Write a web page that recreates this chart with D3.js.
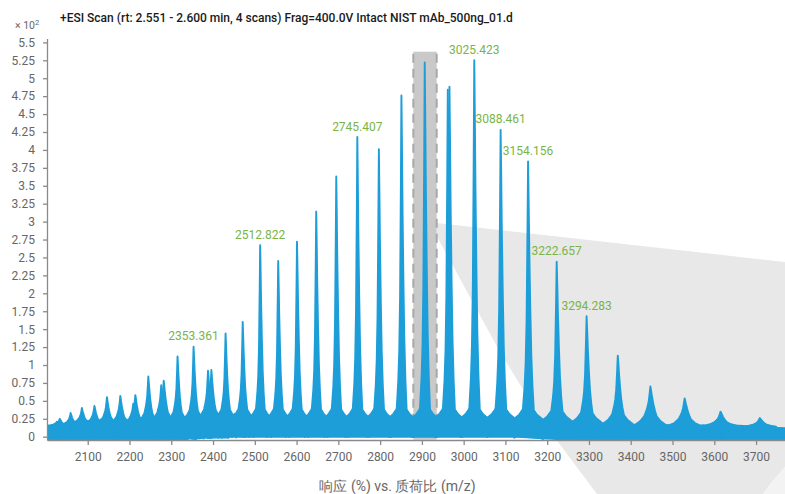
<!DOCTYPE html>
<html><head><meta charset="utf-8">
<script src="https://cdn.jsdelivr.net/npm/d3@7"></script>
<style>
body{margin:0;background:#fff;}
svg text{font-family:Roboto,"Noto Sans",sans-serif;}
</style></head>
<body><svg id="chart" width="785" height="494"></svg>
<script>
// ---------------- data ----------------
const chartTitle = "+ESI Scan (rt: 2.551 - 2.600 min, 4 scans) Frag=400.0V Intact NIST mAb_500ng_01.d";
const xTitle = "响应 (%) vs. 质荷比 (m/z)";
const xDomain = [2002.5, 3769.3];
const yDomain = [-0.046, 5.554];
const xTicks = [2100,2200,2300,2400,2500,2600,2700,2800,2900,3000,3100,3200,3300,3400,3500,3600,3700];
const yTicks = [0,0.25,0.5,0.75,1,1.25,1.5,1.75,2,2.25,2.5,2.75,3,3.25,3.5,3.75,4,4.25,4.5,4.75,5,5.25,5.5];

// peak apexes (m/z, response x10^2)
const peakMz  = [2005,2026,2033,2059,2077,2086,2102,2116,2131,2146,2163,2178,2195,2209,2214,2230,2245,2262,2276,2282,2298,2315,2335,2353.4,2372,2388,2396,2412,2430,2452,2471,2512.8,2556,2601,2647,2695,2745.4,2797,2851,2906.8,2962,2966,3025.4,3088.5,3154.2,3222.7,3294.3,3369,3447,3517,3529,3572,3590,3615,3656,3709];
const peakTop = [0.14,0.21,0.25,0.33,0.24,0.40,0.22,0.43,0.24,0.55,0.22,0.57,0.22,0.46,0.58,0.25,0.84,0.26,0.72,0.78,0.28,1.12,0.28,1.255,0.30,0.92,0.93,0.30,1.44,0.32,1.60,2.67,2.45,2.72,3.14,3.63,4.18,4.01,4.76,5.22,4.84,4.88,5.25,4.28,3.84,2.44,1.68,1.13,0.70,0.24,0.535,0.16,0.14,0.35,0.13,0.26];

// noise band top between peaks
const valleyMz  = [2003,2015,2045,2068,2081,2094,2109,2124,2138,2155,2170,2187,2203,2222,2237,2254,2269,2290,2306,2325,2344,2363,2380,2404,2421,2441,2461,2491,2534,2578,2624,2671,2720,2771,2824,2878,2935,2995,3057,3121,3188,3258,3331,3408,3488,3550,3600,3635,3680,3740,3770];
const valleyTop = [0.12,0.16,0.15,0.18,0.19,0.19,0.18,0.19,0.19,0.19,0.19,0.19,0.19,0.2,0.2,0.21,0.22,0.22,0.22,0.22,0.24,0.24,0.25,0.25,0.25,0.26,0.26,0.26,0.26,0.26,0.26,0.26,0.26,0.26,0.26,0.26,0.26,0.26,0.26,0.26,0.24,0.22,0.19,0.17,0.16,0.15,0.15,0.16,0.15,0.13,0.12];

// annotated peaks
const labelMz = ["2353.361","2512.822","2745.407","3025.423","3088.461","3154.156","3222.657","3294.283"];

// highlighted extraction window and the zoom funnel (data units)
const selRange = [2879.5, 2935.5];
const selTop = 5.37;
const funnel = [[2936.2,2.98],[3769.3,2.437],[3769.3,-0.423],[3735.8,-0.646],[3716.7,-0.80],[3319.3,-0.80],[3189.9,0.205],[3087,1.18],[2936.2,2.79]];
const funnelCorner = [[3769.3,-0.423],[3769.3,-0.80],[3716.7,-0.80],[3735.8,-0.646]];

// ---------------- styles ----------------
const BLUE = "#1d9ed9";
const GREEN = "#79b446";
const AXIS = "#8a8a8a";
const TXT = "#666";
// glyph shapes (dx in px, fraction)
const HUMP  = [[-12,0],[-8,0.22],[-5,0.5],[-3,0.78],[-1.5,0.95],[0,1],[1.5,0.95],[3,0.78],[5,0.5],[8,0.22],[12,0]];
const SPIKE = [[-12,0],[-4.5,0],[-3,0.08],[-2.1,0.17],[-1.3,0.34],[-0.5,0.72],[0,1],[0.5,0.84],[1.1,0.62],[1.9,0.4],[2.8,0.21],[3.8,0.09],[5,0],[12,0]];
const BAND_PX = 19;

// ---------------- drawing ----------------
const svg = d3.select("#chart");
const L = 47, R = 785, T = 38.5, B = 440;
const x = d3.scaleLinear().domain(xDomain).range([L, R]);
const y = d3.scaleLinear().domain(yDomain).range([B, T]);

// funnel
const pl = d3.line().x(d => x(d[0])).y(d => y(d[1]));
svg.append("path").attr("d", pl(funnel) + "Z").attr("fill", "#e8e8e8");
svg.append("path").attr("d", pl(funnelCorner) + "Z").attr("fill", "#f3f3f3");

// selection window
svg.append("rect")
  .attr("x", x(selRange[0])).attr("y", y(selTop))
  .attr("width", x(selRange[1]) - x(selRange[0]))
  .attr("height", y(0) - y(selTop) + 3)
  .attr("fill", "#c9c9c9");
[selRange[0], selRange[1]].forEach(v => {
  svg.append("line")
    .attr("x1", x(v)).attr("x2", x(v))
    .attr("y1", y(selTop) + 2).attr("y2", y(0))
    .attr("stroke", "#a8a8a8").attr("stroke-width", 2)
    .attr("stroke-dasharray", "9,6");
});

// clip
svg.append("clipPath").attr("id", "plotclip")
  .append("rect").attr("x", L).attr("y", 0).attr("width", R - L).attr("height", B);
const g = svg.append("g").attr("clip-path", "url(#plotclip)");

// noise band
const valleys = valleyMz.map((m, i) => [m, valleyTop[i]]);
const band = d3.area()
  .x(d => x(d[0]))
  .y1(d => y(d[1]))
  .y0(d => y(d[1]) + BAND_PX)
  .curve(d3.curveMonotoneX);
g.append("path").attr("d", band(valleys))
  .attr("fill", BLUE).attr("stroke", BLUE).attr("stroke-width", 1.5);

// spikes
const baseAt = d3.scaleLinear().domain(valleyMz).range(valleyTop);
const hAt = d3.scaleLinear().domain(HUMP.map(d => d[0])).range(HUMP.map(d => d[1]));
const sAt = d3.scaleLinear().domain(SPIKE.map(d => d[0])).range(SPIKE.map(d => d[1]));
const dxs = Array.from(new Set(HUMP.map(d => d[0]).concat(SPIKE.map(d => d[0])))).sort((a, b) => a - b);
peakMz.forEach((m, i) => {
  const top = peakTop[i];
  const b = Math.min(baseAt(m), top);
  const hump = Math.min(0.24, 0.45 * (top - b));
  const k = m / 2745;
  const px = x(m);
  const upper = dxs.map(dx => [px + dx * k, y(b + hump * hAt(dx) + (top - b - hump) * sAt(dx))]);
  const lower = dxs.slice().reverse().map(dx => [px + dx * k, y(b + hump * hAt(dx)) + BAND_PX]);
  g.append("path").attr("d", d3.line()(upper.concat(lower)) + "Z")
    .attr("fill", BLUE).attr("stroke", BLUE)
    .attr("stroke-width", 1.9).attr("stroke-linejoin", "round");
});

// axes
const yAxis = d3.axisLeft(y).tickValues(yTicks).tickSize(4).tickSizeOuter(0).tickPadding(8).tickFormat(d => String(d));
const xAxis = d3.axisBottom(x).tickValues(xTicks).tickSize(5).tickSizeOuter(0).tickPadding(7).tickFormat(d => String(d));
const ya = svg.append("g").attr("transform", `translate(${L},0)`).call(yAxis);
const xa = svg.append("g").attr("transform", `translate(0,${B})`).call(xAxis);
[ya, xa].forEach(a => {
  a.select(".domain").attr("stroke", AXIS).attr("stroke-width", 1.3);
  a.selectAll(".tick line").attr("stroke", AXIS).attr("stroke-width", 1.3);
  a.selectAll(".tick text").attr("fill", TXT).attr("font-size", 12).attr("font-family", "Roboto");
});

// peak labels
labelMz.forEach(s => {
  const m = +s;
  let best = 0;
  peakMz.forEach((p, i) => { if (Math.abs(p - m) < Math.abs(peakMz[best] - m)) best = i; });
  svg.append("text")
    .attr("x", x(m)).attr("y", y(peakTop[best]) - 6.5)
    .attr("text-anchor", "middle").attr("font-size", 12)
    .attr("fill", GREEN).text(s);
});

// titles
svg.append("text").attr("x", 60).attr("y", 22).attr("font-size", 12)
  .attr("fill", "#1a1a1a").attr("font-weight", 500).text(chartTitle);
const mult = svg.append("text").attr("x", 15).attr("y", 29).attr("font-size", 10.5).attr("fill", TXT);
mult.append("tspan").text("× 10");
mult.append("tspan").attr("dy", -4).attr("font-size", 7.5).text("2");
svg.append("text").attr("x", 397.5).attr("y", 491).attr("text-anchor", "middle")
  .attr("font-size", 14).attr("fill", TXT)
  .attr("font-family", "Roboto, 'Noto Sans CJK SC', sans-serif").text(xTitle);
</script>
</body></html>
